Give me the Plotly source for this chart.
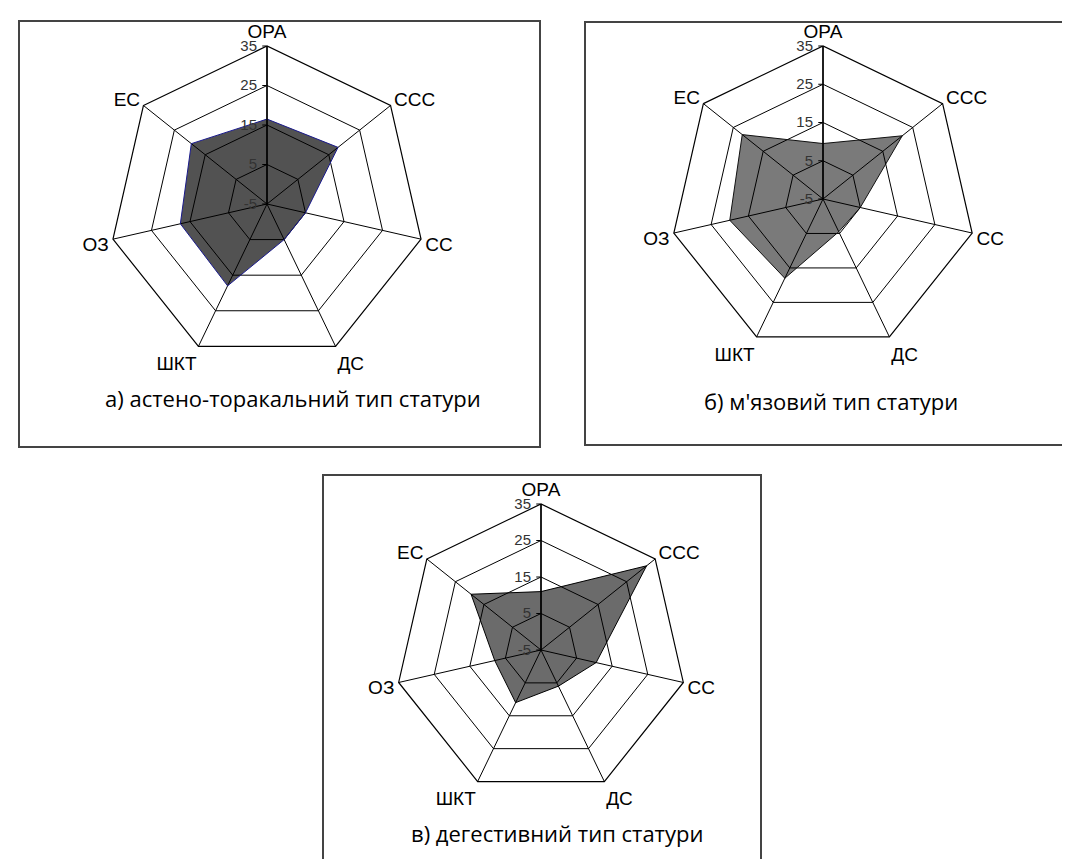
import plotly.graph_objects as go

categories = ["ОРА", "ССС", "СС", "ДС", "ШКТ", "ОЗ", "ЕС"]
astheno_thoracic = [16.5, 18, 5, 5, 18, 17.5, 19.5]
muscular = [9.5, 21.5, 5, 4.5, 18, 20, 22]
digestive = [11, 32, 10.5, 6, 11, 8, 19.5]
tick_values = [-5, 5, 15, 25, 35]
tick_labels = ["-5", "5", "15", "25", "35"]
titles = ["а) астено-торакальний тип статури",
          "б) м'язовий тип статури",
          "в) дегестивний тип статури"]

W, H = 1070, 859

def px(x):
    return x / W

def py(y):
    return 1 - y / H

panels = [
    # values, fill colour, line colour, centre x, centre y, radius, title pos
    (astheno_thoracic, "rgba(0,0,0,0.68)", "#1a1a8c", 259, 196, 158, (285, 390)),
    (muscular, "rgba(0,0,0,0.52)", "#111111", 815, 191, 153, (823, 393)),
    (digestive, "rgba(0,0,0,0.58)", "#000000", 533, 642, 146, (549, 825)),
]

fig = go.Figure()
layout_polars = {}
annotations = []
for i, (vals, fc, lc, cx, cy, R, tpos) in enumerate(panels):
    pid = "polar" if i == 0 else f"polar{i+1}"
    fig.add_trace(go.Scatterpolar(
        r=vals + [vals[0]],
        theta=categories + [categories[0]],
        mode="lines",
        fill="toself",
        line=dict(color=lc, width=1),
        fillcolor=fc,
        subplot=pid,
        showlegend=False,
        hoverinfo="r+theta",
    ))
    layout_polars[pid] = dict(
        domain=dict(x=[px(cx - R), px(cx + R)], y=[py(cy + R), py(cy - R)]),
        gridshape="linear",
        bgcolor="white",
        radialaxis=dict(
            range=[-5, 35], tickvals=tick_values, ticktext=tick_labels,
            angle=90, tickangle=90, side="counterclockwise",
            showline=True, linecolor="black", linewidth=1.5,
            gridcolor="black", gridwidth=1,
            ticks="outside", ticklen=4, tickcolor="black",
            tickfont=dict(family="Liberation Sans, Arial", size=15, color="#333333"),
            layer="above traces",
        ),
        angularaxis=dict(
            direction="clockwise", rotation=90,
            showline=True, linecolor="black", linewidth=1.2,
            gridcolor="black", gridwidth=1,
            ticks="",
            tickfont=dict(family="Liberation Sans, Arial", size=19, color="black"),
            layer="above traces",
        ),
    )
    annotations.append(dict(
        x=px(tpos[0]), y=py(tpos[1]), xref="paper", yref="paper",
        text=titles[i], showarrow=False, xanchor="center", yanchor="middle",
        font=dict(family="Open Sans, Noto Sans", size=22, color="black"),
    ))

boxes = [(11, 13, 532, 439), (577, 14, 1069, 437), (315, 467, 753, 862)]
shapes = []
for (x0, y0, x1, y1) in boxes:
    shapes.append(dict(type="rect", xref="paper", yref="paper",
                       x0=px(x0), x1=px(x1), y0=py(y1), y1=py(y0),
                       line=dict(color="#444444", width=2), layer="below"))

fig.update_layout(
    width=W, height=H,
    margin=dict(l=0, r=0, t=0, b=0),
    paper_bgcolor="white",
    plot_bgcolor="white",
    shapes=shapes,
    annotations=annotations,
    **layout_polars,
)

fig.write_html("out.html")
